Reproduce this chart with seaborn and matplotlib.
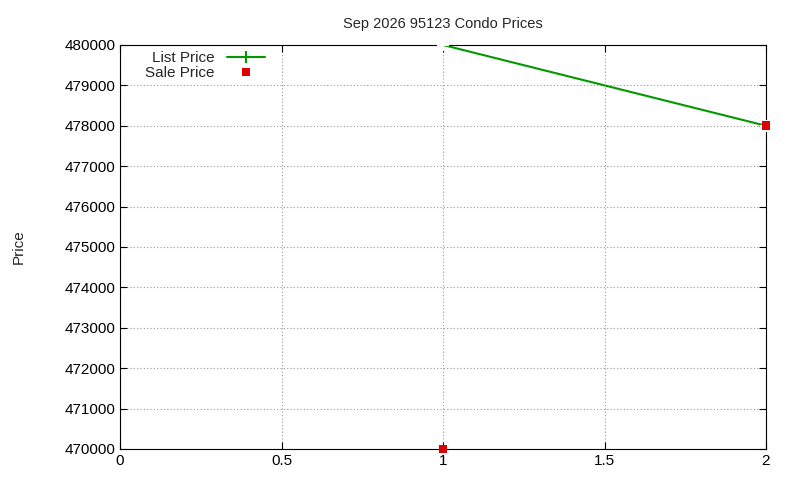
import matplotlib
matplotlib.use("Agg")
import matplotlib.pyplot as plt
from matplotlib.lines import Line2D
import pandas as pd
import seaborn as sns

list_x = [1, 2]
list_price = [480000, 478000]
sale_x = [1, 2]
sale_price = [470000, 478000]

sns.set_theme(style="ticks")
plt.rcParams["font.family"] = ["Liberation Sans", "DejaVu Sans"]

fig = plt.figure(figsize=(8, 4.8), dpi=100)
ax = fig.add_axes([0.15, 0.0646, 0.8075, 0.8417])

list_df = pd.DataFrame({"x": list_x, "y": list_price})
sale_df = pd.DataFrame({"x": sale_x, "y": sale_price})
sns.lineplot(data=list_df, x="x", y="y", ax=ax, color="#009900", marker="+",
             markersize=8, markeredgewidth=1.5, linewidth=1.5, legend=False,
             clip_on=False, zorder=4)
sns.scatterplot(data=sale_df, x="x", y="y", ax=ax, color="#dd0000", marker="s",
                s=40, edgecolor="none", legend=False, zorder=5, clip_on=False)

ax.set_xlim(0, 2)
ax.set_ylim(470000, 480000)
ax.set_xticks([0, 0.5, 1, 1.5, 2])
ax.set_xticklabels(["0", "0.5", "1", "1.5", "2"])
ax.set_yticks(range(470000, 480001, 1000))
ax.grid(True, color="#999999", linestyle=(0, (1, 2)), linewidth=0.8)
for s in ax.spines.values():
    s.set_color("black")
    s.set_linewidth(0.8)
ax.tick_params(direction="in", length=5, width=0.8, labelsize=11, colors="black",
               top=True, right=True)
ax.set_xlabel("")
ax.set_ylabel("Price", fontsize=11, labelpad=28)
ax.set_title("Sep 2026 95123 Condo Prices", fontsize=10.5, pad=12)

handles = [
    Line2D([], [], color="#009900", linestyle="-", linewidth=1.5, marker="+",
           markersize=8, markeredgewidth=1.5, markevery=[1]),
    Line2D([], [], color="#dd0000", linestyle="none", marker="s", markersize=6,
           markeredgewidth=0),
]
ax.legend(handles, ["List Price", "Sale Price"], loc="upper left", frameon=False,
          markerfirst=False, fontsize=11, handlelength=2.5, borderaxespad=0.0,
          bbox_to_anchor=(0.03, 1.0), labelspacing=0.05)

fig.savefig("out.png", dpi=100)
